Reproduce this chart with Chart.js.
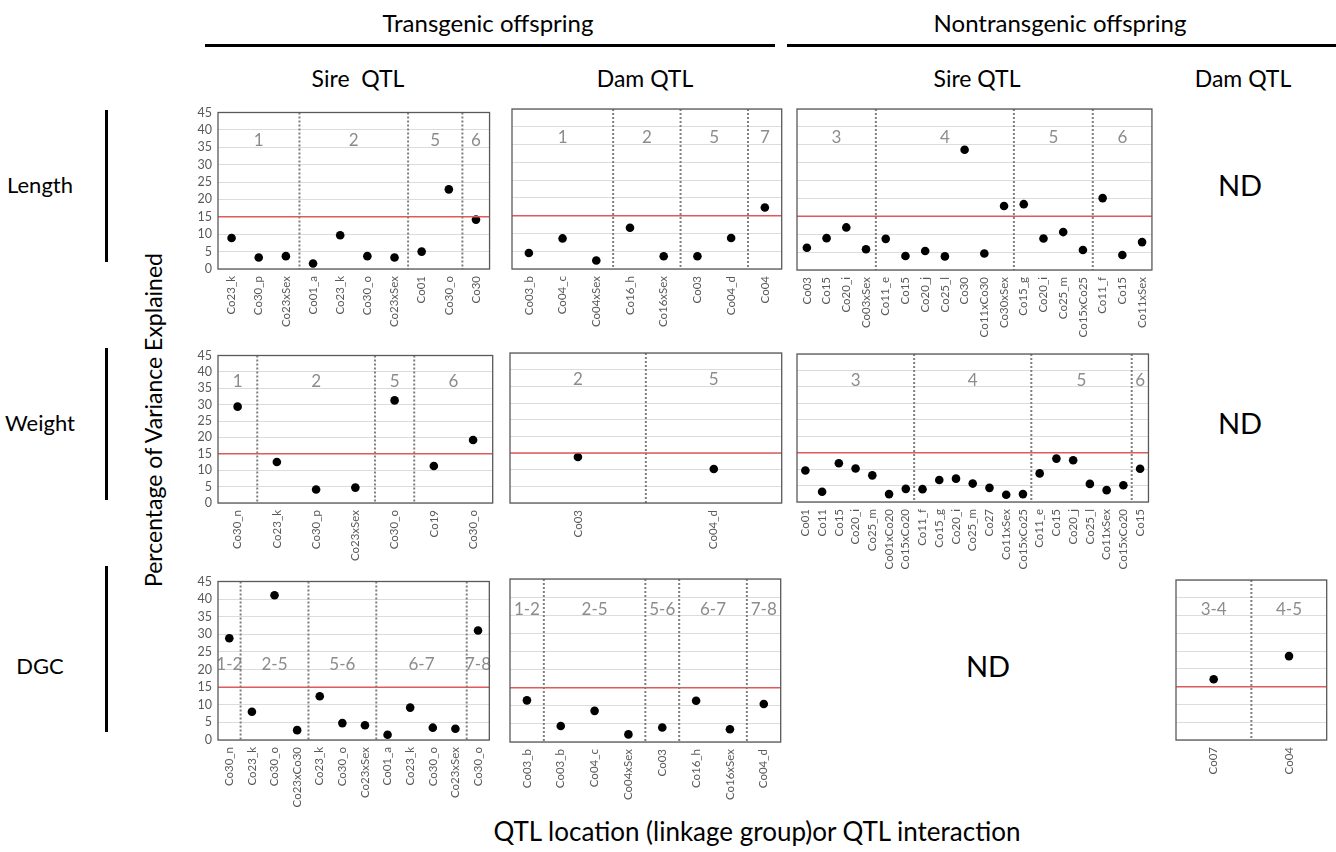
<!DOCTYPE html>
<html>
<head>
<meta charset="utf-8">
<script src="https://cdn.jsdelivr.net/npm/chart.js@4.4.1/dist/chart.umd.min.js"></script>
<style>
  body { margin: 0; background: #fff; font-family: Lato, "Open Sans", sans-serif; }
  #page { position: relative; width: 1336px; height: 852px; overflow: hidden; }
  canvas { position: absolute; }
  .t { position: absolute; color: #000; white-space: nowrap; transform: translate(-50%, -50%); }
  .bar { position: absolute; background: #000; }
</style>
</head>
<body>
<div id="page">
  <div class="t" style="left:488px; top:22px; font-size:24px;">Transgenic offspring</div>
  <div class="t" style="left:1060px; top:22px; font-size:24px;">Nontransgenic offspring</div>
  <div class="bar" style="left:205px; top:44px; width:570px; height:3px;"></div>
  <div class="bar" style="left:787px; top:44px; width:549px; height:3px;"></div>
  <div class="t" style="left:358px; top:78px; font-size:23px;">Sire &nbsp;QTL</div>
  <div class="t" style="left:645px; top:78px; font-size:23px;">Dam QTL</div>
  <div class="t" style="left:977px; top:78px; font-size:23px;">Sire QTL</div>
  <div class="t" style="left:1243px; top:78px; font-size:23px;">Dam QTL</div>

  <div class="t" style="left:40px; top:184px; font-size:22px;">Length</div>
  <div class="t" style="left:40px; top:422px; font-size:22px;">Weight</div>
  <div class="t" style="left:40px; top:665px; font-size:22px;">DGC</div>
  <div class="bar" style="left:105px; top:110px; width:3px; height:152px;"></div>
  <div class="bar" style="left:105px; top:348px; width:3px; height:152px;"></div>
  <div class="bar" style="left:105px; top:566px; width:3px; height:166px;"></div>

  <div class="t" style="left:153px; top:420px; font-size:23px; transform: translate(-50%, -50%) rotate(-90deg);">Percentage of Variance Explained</div>
  <div class="t" style="left:757px; top:831px; font-size:26px;">QTL location (linkage group)or QTL interaction</div>

  <div class="t" style="left:1240px; top:184px; font-size:29px;">ND</div>
  <div class="t" style="left:1240px; top:422px; font-size:29px;">ND</div>
  <div class="t" style="left:988px; top:665px; font-size:29px;">ND</div>
</div>

<script>
// Length - transgenic, sire QTL
const lenSireTgLabels = ['Co23_k', 'Co30_p', 'Co23xSex', 'Co01_a', 'Co23_k', 'Co30_o', 'Co23xSex', 'Co01', 'Co30_o', 'Co30'];
const lenSireTgValues = [8.9, 3.3, 3.7, 1.6, 9.7, 3.7, 3.3, 5.0, 22.9, 14.2];
const lenSireTgGroups = [3, 4, 2, 1];
const lenSireTgGroupNames = ['1', '2', '5', '6'];

// Length - transgenic, dam QTL
const lenDamTgLabels = ['Co03_b', 'Co04_c', 'Co04xSex', 'Co16_h', 'Co16xSex', 'Co03', 'Co04_d', 'Co04'];
const lenDamTgValues = [4.5, 8.6, 2.4, 11.6, 3.6, 3.6, 8.7, 17.3];
const lenDamTgGroups = [3, 2, 2, 1];
const lenDamTgGroupNames = ['1', '2', '5', '7'];

// Length - nontransgenic, sire QTL
const lenSireNtLabels = ['Co03', 'Co15', 'Co20_i', 'Co03xSex', 'Co11_e', 'Co15', 'Co20_j', 'Co25_l', 'Co30', 'Co11xCo30', 'Co30xSex',
  'Co15_g', 'Co20_i', 'Co25_m', 'Co15xCo25', 'Co11_f', 'Co15', 'Co11xSex'];
const lenSireNtValues = [6.2, 8.9, 11.9, 5.8, 8.7, 3.9, 5.3, 3.8, 33.6, 4.6, 17.9, 18.4, 8.8, 10.6, 5.6, 20.1, 4.2, 7.8];
const lenSireNtGroups = [4, 7, 4, 3];
const lenSireNtGroupNames = ['3', '4', '5', '6'];

// Weight - transgenic, sire QTL
const wtSireTgLabels = ['Co30_n', 'Co23_k', 'Co30_p', 'Co23xSex', 'Co30_o', 'Co19', 'Co30_o'];
const wtSireTgValues = [29.4, 12.5, 4.1, 4.7, 31.3, 11.3, 19.2];
const wtSireTgGroups = [1, 3, 1, 2];
const wtSireTgGroupNames = ['1', '2', '5', '6'];

// Weight - transgenic, dam QTL
const wtDamTgLabels = ['Co03', 'Co04_d'];
const wtDamTgValues = [13.8, 10.2];
const wtDamTgGroups = [1, 1];
const wtDamTgGroupNames = ['2', '5'];

// Weight - nontransgenic, sire QTL
const wtSireNtLabels = ['Co01', 'Co11', 'Co15', 'Co20_i', 'Co25_m', 'Co01xCo20', 'Co15xCo20',
  'Co11_f', 'Co15_g', 'Co20_i', 'Co25_m', 'Co27', 'Co11xSex', 'Co15xCo25',
  'Co11_e', 'Co15', 'Co20_j', 'Co25_l', 'Co11xSex', 'Co15xCo20', 'Co15'];
const wtSireNtValues = [9.6, 3.1, 11.8, 10.2, 8.1, 2.4, 4.0, 3.9, 6.7, 7.1, 5.6, 4.3, 2.2, 2.4, 8.7, 13.2, 12.7, 5.5, 3.6, 5.1, 10.1];
const wtSireNtGroups = [7, 7, 6, 1];
const wtSireNtGroupNames = ['3', '4', '5', '6'];

// DGC - transgenic, sire QTL
const dgcSireTgLabels = ['Co30_n', 'Co23_k', 'Co30_o', 'Co23xCo30', 'Co23_k', 'Co30_o', 'Co23xSex',
  'Co01_a', 'Co23_k', 'Co30_o', 'Co23xSex', 'Co30_o'];
const dgcSireTgValues = [28.9, 8.0, 41.1, 2.8, 12.4, 4.8, 4.2, 1.5, 9.2, 3.5, 3.2, 31.1];
const dgcSireTgGroups = [1, 3, 3, 4, 1];
const dgcSireTgGroupNames = ['1-2', '2-5', '5-6', '6-7', '7-8'];

// DGC - transgenic, dam QTL
const dgcDamTgLabels = ['Co03_b', 'Co03_b', 'Co04_c', 'Co04xSex', 'Co03', 'Co16_h', 'Co16xSex', 'Co04_d'];
const dgcDamTgValues = [11.5, 4.4, 8.6, 2.1, 4.0, 11.4, 3.5, 10.5];
const dgcDamTgGroups = [1, 3, 1, 2, 1];
const dgcDamTgGroupNames = ['1-2', '2-5', '5-6', '6-7', '7-8'];

// DGC - nontransgenic, dam QTL
const dgcDamNtLabels = ['Co07', 'Co04'];
const dgcDamNtValues = [17.1, 23.6];
const dgcDamNtGroups = [1, 1];
const dgcDamNtGroupNames = ['3-4', '4-5'];

const yTicks = [0, 5, 10, 15, 20, 25, 30, 35, 40, 45];
const threshold = 15;

const AXIS_W = 40;
const PAD_TOP = 10;
const XLAB_H = 80;

// draws the frame, threshold line, dotted group separators and group names
const panelDecor = {
  id: 'panelDecor',
  afterDraw(chart, args, opts) {
    const ctx = chart.ctx;
    const area = chart.chartArea;
    const x = chart.scales.x;
    const y = chart.scales.y;
    ctx.save();

    // threshold
    const ty = y.getPixelForValue(threshold);
    ctx.strokeStyle = '#e05a5a';
    ctx.lineWidth = 1.5;
    ctx.beginPath();
    ctx.moveTo(area.left, ty);
    ctx.lineTo(area.right, ty);
    ctx.stroke();

    // group separators and names
    let start = 0;
    ctx.font = opts.nameSize + 'px Lato, sans-serif';
    ctx.textAlign = 'center';
    ctx.textBaseline = 'middle';
    opts.groups.forEach((n, gi) => {
      const end = start + n - 1;
      const left = start === 0 ? area.left : (x.getPixelForValue(start - 1) + x.getPixelForValue(start)) / 2;
      const right = gi === opts.groups.length - 1 ? area.right : (x.getPixelForValue(end) + x.getPixelForValue(end + 1)) / 2;
      if (gi > 0) {
        ctx.strokeStyle = '#7f7f7f';
        ctx.lineWidth = 2;
        ctx.setLineDash([2, 2]);
        ctx.beginPath();
        ctx.moveTo(left, area.top);
        ctx.lineTo(left, area.bottom);
        ctx.stroke();
        ctx.setLineDash([]);
      }
      ctx.fillStyle = '#8c8c8c';
      ctx.fillText(opts.names[gi], (left + right) / 2, y.getPixelForValue(opts.nameY));
      start += n;
    });

    // frame
    ctx.strokeStyle = '#595959';
    ctx.lineWidth = 1.3;
    ctx.strokeRect(area.left, area.top, area.right - area.left, area.bottom - area.top);
    ctx.restore();
  }
};

function makePanel(left, top, width, height, labels, values, groups, names, showY, nameY) {
  const canvas = document.createElement('canvas');
  canvas.width = width + AXIS_W + 3;
  canvas.height = height + PAD_TOP + XLAB_H;
  canvas.style.left = (left - AXIS_W) + 'px';
  canvas.style.top = (top - PAD_TOP) + 'px';
  document.getElementById('page').appendChild(canvas);

  new Chart(canvas.getContext('2d'), {
    type: 'line',
    data: {
      labels: labels,
      datasets: [{
        data: values,
        showLine: false,
        pointRadius: 4.3,
        pointHoverRadius: 4.3,
        pointBackgroundColor: '#000',
        pointBorderColor: '#000',
        pointBorderWidth: 0
      }]
    },
    options: {
      responsive: false,
      animation: false,
      layout: { padding: { top: PAD_TOP, right: 3, left: 0, bottom: 0 } },
      plugins: {
        legend: { display: false },
        tooltip: { enabled: false },
        panelDecor: { groups: groups, names: names, nameY: nameY, nameSize: 17 }
      },
      scales: {
        x: {
          type: 'category',
          offset: true,
          grid: { display: false, drawTicks: false },
          border: { display: false },
          ticks: {
            autoSkip: false,
            minRotation: 90,
            maxRotation: 90,
            padding: 7,
            color: '#595959',
            font: { family: 'Lato', size: 11.5 }
          },
          afterFit(scale) { scale.height = XLAB_H; }
        },
        y: {
          min: 0,
          max: 45,
          afterBuildTicks(scale) { scale.ticks = yTicks.map(v => ({ value: v })); },
          grid: { color: '#dcdcdc', lineWidth: 1, drawTicks: false },
          border: { display: false },
          ticks: {
            display: showY,
            autoSkip: false,
            padding: 6,
            color: '#595959',
            font: { family: 'Lato', size: 12.5 }
          },
          afterFit(scale) { scale.width = AXIS_W; }
        }
      }
    },
    plugins: [panelDecor]
  });
}

makePanel(218, 109, 276, 160, lenSireTgLabels, lenSireTgValues, lenSireTgGroups, lenSireTgGroupNames, true, 37);
makePanel(512, 109, 271, 160, lenDamTgLabels, lenDamTgValues, lenDamTgGroups, lenDamTgGroupNames, false, 37);
makePanel(797, 109, 363, 161, lenSireNtLabels, lenSireNtValues, lenSireNtGroups, lenSireNtGroupNames, false, 37);

makePanel(218, 352, 276, 151, wtSireTgLabels, wtSireTgValues, wtSireTgGroups, wtSireTgGroupNames, true, 37);
makePanel(510, 353, 273, 150, wtDamTgLabels, wtDamTgValues, wtDamTgGroups, wtDamTgGroupNames, false, 37);
makePanel(797, 354, 361, 148, wtSireNtLabels, wtSireNtValues, wtSireNtGroups, wtSireNtGroupNames, false, 37);

makePanel(218, 578, 278, 162, dgcSireTgLabels, dgcSireTgValues, dgcSireTgGroups, dgcSireTgGroupNames, true, 21.5);
makePanel(510, 579, 272, 163, dgcDamTgLabels, dgcDamTgValues, dgcDamTgGroups, dgcDamTgGroupNames, false, 36.7);
makePanel(1176, 580, 152, 160, dgcDamNtLabels, dgcDamNtValues, dgcDamNtGroups, dgcDamNtGroupNames, false, 36.7);
</script>
</body>
</html>
